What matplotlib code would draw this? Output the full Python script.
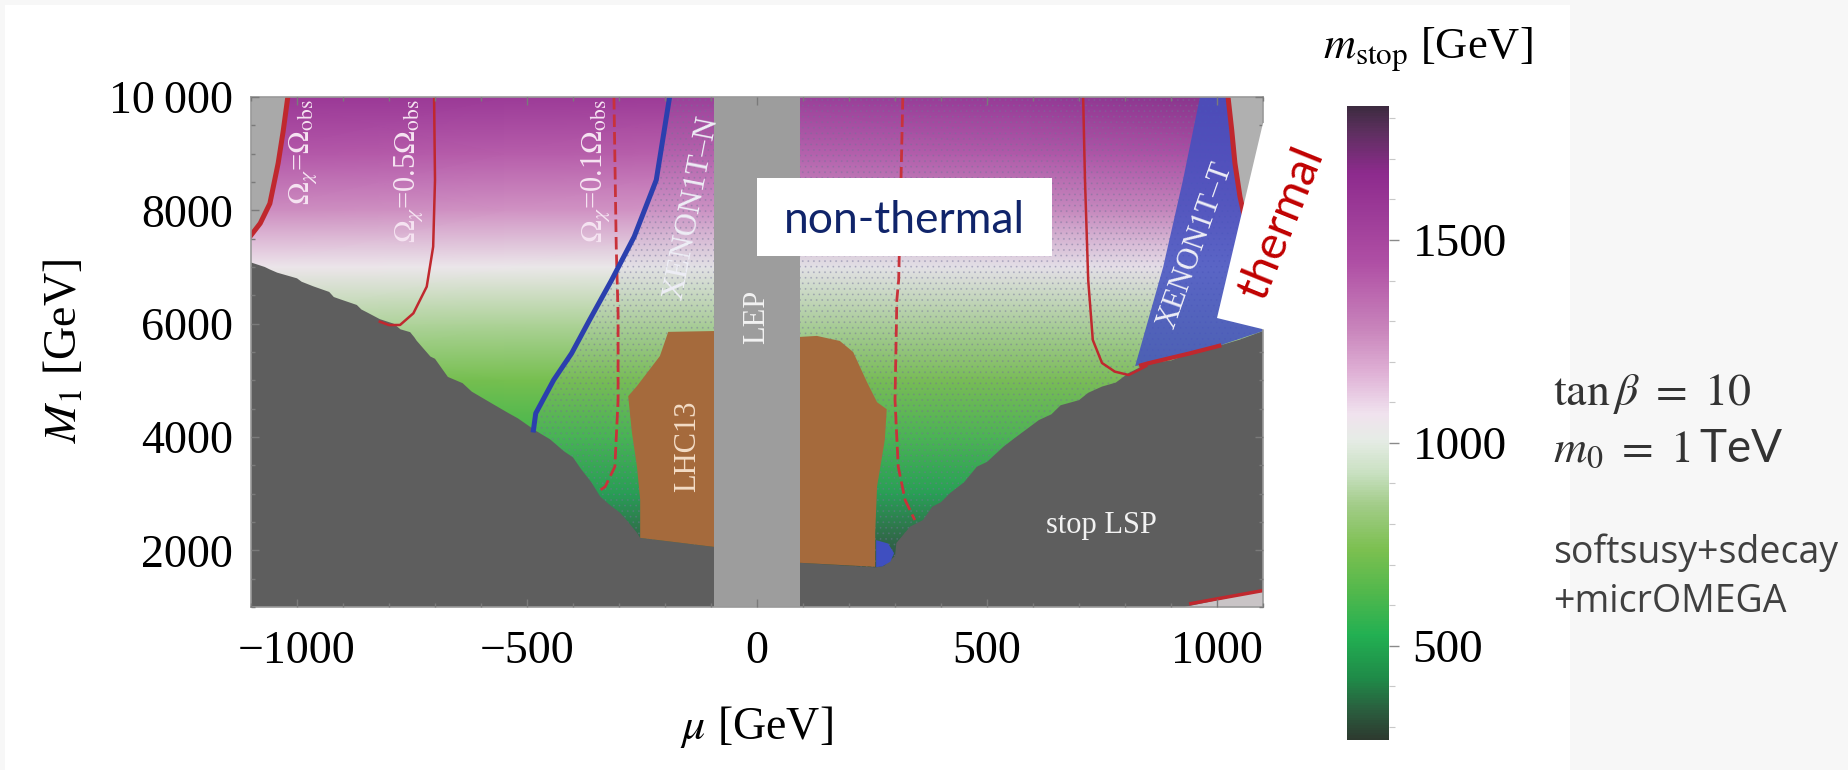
import numpy as np
import matplotlib
matplotlib.use('Agg')
import matplotlib.pyplot as plt
from matplotlib.colors import LinearSegmentedColormap
from matplotlib.patches import Polygon, Rectangle
from matplotlib.ticker import FixedLocator, FixedFormatter, MultipleLocator

plt.rcParams['font.family'] = ['Liberation Serif', 'DejaVu Serif']
plt.rcParams['mathtext.fontset'] = 'stix'
plt.rcParams['hatch.linewidth'] = 0.6

mu_grid = [-1100, -550, 0, 550, 1100]
m1_grid = [1000, 2000, 3000, 4000, 5000, 6000, 7000, 8000, 9000, 10000]
m_stop = [
    [250, 250, 250, 250, 250],
    [330, 330, 330, 330, 330],
    [470, 480, 480, 490, 500],
    [590, 600, 600, 610, 620],
    [710, 720, 720, 730, 740],
    [880, 870, 870, 870, 880],
    [1050, 1040, 1030, 1040, 1060],
    [1260, 1250, 1240, 1260, 1290],
    [1420, 1400, 1390, 1420, 1480],
    [1580, 1570, 1560, 1600, 1680],
]

# colour bar
cbar_min, cbar_max = 268, 1830
cbar_ticks = [500, 1000, 1500]
cbar_fracs = [0.0, 0.046, 0.095, 0.164, 0.233, 0.30, 0.37, 0.419, 0.474,
              0.515, 0.578, 0.647, 0.75, 0.895, 0.96, 1.0]
cbar_colors = ['#2d3a2f', '#2a5e3e', '#1f8a48', '#22b052', '#52b84c', '#7cc050',
               '#a2cc88', '#c8e0c0', '#e6ece6', '#f0e2ee', '#e0b2d6', '#c985bc',
               '#b050a5', '#8d2b8d', '#5e2f60', '#3d2b40']

# stop LSP / excluded region (dark grey): left edge, under LEP, right edge
gray_left_mu = [-1100, -1070, -1060, -1043, -1000, -990, -965, -930, -920, -906,
                -870, -860, -848, -820, -790, -775, -754, -745, -740, -710, -700,
                -672, -640, -620, -576, -540, -520, -481, -450, -420, -400, -383,
                -360, -341, -320, -298, -280, -261, -254]
gray_left_m1 = [7080, 7000, 6960, 6900, 6800, 6740, 6660, 6560, 6470, 6430,
                6330, 6250, 6200, 6080, 6000, 5900, 5850, 5760, 5700, 5420, 5380,
                5060, 4950, 4800, 4590, 4420, 4330, 4110, 3960, 3750, 3640, 3440,
                3200, 2950, 2800, 2665, 2500, 2310, 2220]
gray_mid_mu = [-93, 93]
gray_mid_m1 = [2060, 1780]
gray_right_mu = [257, 275, 300, 303, 333, 361, 381, 400, 419, 450, 478, 500, 536,
                 560, 613, 640, 660, 700, 720, 750, 780, 808, 850, 900, 943, 1000,
                 1050, 1100]
gray_right_m1 = [1700, 1720, 1900, 2130, 2420, 2535, 2770, 2850, 3006, 3200, 3476,
                 3560, 3830, 3980, 4300, 4400, 4560, 4650, 4780, 4890, 4960, 5130,
                 5300, 5350, 5480, 5600, 5720, 5870]

# LHC13 exclusion (two pieces either side of LEP)
lhc_left_mu = [-193, -93, -93, -254, -254, -261, -272, -280, -261, -211]
lhc_left_m1 = [5855, 5870, 2060, 2220, 2896, 3480, 4083, 4720, 4898, 5430]
lhc_right_mu = [93, 130, 180, 209, 239, 261, 282, 278, 261, 257, 257, 93]
lhc_right_m1 = [5766, 5784, 5695, 5500, 4969, 4614, 4490, 3959, 3126, 2311, 1709, 1780]
small_blue_mu = [259, 259, 285, 298, 290, 272]
small_blue_m1 = [1706, 2180, 2120, 1950, 1800, 1715]

# LEP chargino bound
lep_mu = [-93, 93]

# relic density contours
obs_left_mu = [-1020, -1030, -1041, -1059, -1080, -1100]
obs_left_m1 = [10000, 9400, 8830, 8120, 7770, 7560]
half_left_mu = [-702, -700, -704, -718, -747, -776, -800, -820]
half_left_m1 = [10000, 8535, 7358, 6653, 6183, 5977, 5975, 6035]
tenth_left_mu = [-311, -306, -302, -302, -309, -330, -345]
tenth_left_m1 = [10000, 7358, 6183, 4653, 3476, 3123, 3040]
tenth_right_mu = [317, 313, 308, 304, 300, 307, 322, 343]
tenth_right_m1 = [10000, 8535, 6770, 6418, 4653, 3476, 2888, 2535]
half_right_mu = [709, 713, 720, 730, 750, 778, 808, 837, 846]
half_right_m1 = [10000, 8535, 6770, 5712, 5306, 5153, 5094, 5212, 5250]
obs_right_mu = [1024, 1032, 1039, 1050, 1058]
obs_right_m1 = [10000, 9418, 8830, 8240, 7950]
obs_right_low_mu = [835, 850, 943, 1005]
obs_right_low_m1 = [5265, 5300, 5480, 5610]

# XENON1T limits
xenon_n_mu = [-190, -219, -267, -316, -364, -403, -442, -481, -486]
xenon_n_m1 = [10000, 8535, 7535, 6770, 6065, 5477, 5006, 4418, 4124]
xenon_t_mu = [963, 1024, 1032, 1039, 1050, 1058, 1080, 1100, 1000, 943, 850, 822, 883, 926]
xenon_t_m1 = [10000, 10000, 9418, 8830, 8240, 7950, 7000, 5870, 5600, 5480, 5300, 5250, 7000, 8535]

# bottom-right corner sliver
corner_mu = [930, 1100, 1100]
corner_m1 = [1000, 1290, 1000]

W, H = 1848, 770
fig = plt.figure(figsize=(W / 100, H / 100), dpi=100, facecolor='#f7f7f7')
fig.patches.append(Rectangle((5 / W, 0), 1565 / W, 765 / H, transform=fig.transFigure,
                             facecolor='white', edgecolor='none', zorder=-5))

ax = fig.add_axes([251 / W, 1 - 607 / H, 1012 / W, 510 / H])
cax = fig.add_axes([1347 / W, 1 - 740 / H, 42 / W, 634 / H])

cmap = LinearSegmentedColormap.from_list('mstop', list(zip(cbar_fracs, cbar_colors)))
mesh = ax.pcolormesh(mu_grid, m1_grid, np.array(m_stop), shading='gouraud',
                     cmap=cmap, vmin=cbar_min, vmax=cbar_max, zorder=0)

def poly(mu, m1, **kw):
    p = Polygon(np.column_stack([mu, m1]), closed=True, **kw)
    ax.add_patch(p)
    return p

# dotted XENON1T-N overlay
poly(xenon_n_mu + [-486, 1100, 1100], xenon_n_m1 + [1000, 1000, 10000],
     facecolor=(0.55, 0.55, 0.75, 0.07), edgecolor=(0.45, 0.45, 0.6, 0.35),
     hatch='...', lw=0, zorder=1)

# grey regions
poly([-1100] + gray_left_mu + gray_mid_mu + gray_right_mu + [1100],
     [1000] + gray_left_m1 + gray_mid_m1 + gray_right_m1 + [1000],
     facecolor='#5e5e5e', edgecolor='none', zorder=2)
poly([-1100] + obs_left_mu, [10000] + obs_left_m1, facecolor='#a9a9a9', edgecolor='none', zorder=2)
poly(obs_right_mu + [1100, 1100], obs_right_m1 + [7000, 10000],
     facecolor='#b0b0b0', edgecolor='none', zorder=2)
poly(corner_mu, corner_m1, facecolor='#c9c4c6', edgecolor='none', zorder=2)
ax.plot([943, 1100], [1060, 1290], color='#c0282e', lw=2.5, zorder=5)

# XENON1T-T region
poly(xenon_t_mu, xenon_t_m1, facecolor='#4250c0', alpha=0.85, edgecolor='none', zorder=3)

# LHC13 and LEP
poly(lhc_left_mu, lhc_left_m1, facecolor='#a56a3c', edgecolor='none', zorder=3)
poly(lhc_right_mu, lhc_right_m1, facecolor='#a56a3c', edgecolor='none', zorder=3)
poly(small_blue_mu, small_blue_m1, facecolor='#3f4fc0', edgecolor='none', zorder=3)
ax.axvspan(lep_mu[0], lep_mu[1], facecolor='#9d9d9d', edgecolor='none', zorder=4)

# contours
red = '#c0282e'
ax.plot(obs_left_mu, obs_left_m1, color=red, lw=3.6, zorder=5)
ax.plot(obs_right_mu, obs_right_m1, color=red, lw=3.6, zorder=5)
ax.plot(obs_right_low_mu, obs_right_low_m1, color=red, lw=3.0, zorder=5)
ax.plot(half_left_mu, half_left_m1, color=red, lw=1.8, zorder=5)
ax.plot(half_right_mu, half_right_m1, color=red, lw=1.8, zorder=5)
for xs, ys in [(tenth_left_mu, tenth_left_m1), (tenth_right_mu, tenth_right_m1)]:
    ln, = ax.plot(xs, ys, color='#c8323a', lw=2.0, zorder=5)
    ln.set_dashes((4.5, 1.8))
ax.plot(xenon_n_mu, xenon_n_m1, color='#2b3fae', lw=3.6, zorder=5)

# white wedge behind "thermal"
wedge = Polygon([(1100, 9540), (1000, 6100), (1107, 5888), (1130, 5888), (1130, 9540)],
                closed=True, facecolor='white', edgecolor='none', zorder=11, clip_on=False)
ax.add_patch(wedge)

# non-thermal box
ax.add_patch(Rectangle((0, 7194), 641, 1377, facecolor='white', edgecolor='none', zorder=11))
ax.text(320, 7600, 'non-thermal', family='Lato', fontsize=32, color='#10246a',
        ha='center', va='baseline', zorder=12)
ax.text(1141, 7777, 'thermal', family='Lato', fontsize=34, color='#c00000', rotation=68,
        ha='center', va='center', zorder=12, clip_on=False)

lab = dict(ha='center', va='center', zorder=12)
om = dict(rotation=90, fontsize=22, color='#f6e4f2', ha='center', va='top', zorder=12)
ax.text(-987, 9960, r'$\Omega_\chi$=$\Omega_\mathrm{obs}$', **om)
ax.text(-757, 9960, r'$\Omega_\chi$=0.5$\Omega_\mathrm{obs}$', **om)
ax.text(-352, 9960, r'$\Omega_\chi$=0.1$\Omega_\mathrm{obs}$', **om)
ax.text(-142, 8050, 'XENON1T\u2013N', rotation=79, fontsize=23, color='#eeeef6', **lab)
ax.text(954, 7388, 'XENON1T\u2013T', rotation=70.5, fontsize=22, color='#eeeef6', **lab)
ax.text(0, 6118, 'LEP', rotation=90, fontsize=22, color='#f2f2f2', **lab)
ax.text(-150, 3842, 'LHC13', rotation=90, fontsize=22, color='#f3dcc6', **lab)
ax.text(748, 2447, 'stop LSP', fontsize=22, color='#f2f2f2', **lab)

# axes styling
ax.set_xlim(-1100, 1100)
ax.set_ylim(1000, 10000)
ax.xaxis.set_major_locator(FixedLocator([-1000, -500, 0, 500, 1000]))
ax.xaxis.set_minor_locator(MultipleLocator(100))
ax.yaxis.set_major_locator(FixedLocator([2000, 4000, 6000, 8000, 10000]))
ax.yaxis.set_major_formatter(FixedFormatter(['2000', '4000', '6000', '8000', '10\u2009000']))
ax.yaxis.set_minor_locator(MultipleLocator(500))
ax.tick_params(which='both', direction='in', top=True, right=True, color='#7a7a7a', width=1)
ax.tick_params(which='major', length=6, labelsize=33)
ax.tick_params(which='minor', length=3)
ax.tick_params(axis='x', pad=17)
ax.tick_params(axis='y', pad=13)
for s in ax.spines.values():
    s.set_color('#9a9a9a')
    s.set_linewidth(1.2)
    s.set_zorder(10)
ax.xaxis.set_zorder(10)
ax.yaxis.set_zorder(10)

fig.text(65 / W, 1 - 351 / H, r'$M_1$ [GeV]', rotation=90, ha='center', va='center', fontsize=33)
fig.text(756 / W, 1 - 727 / H, r'$\mu$ [GeV]', ha='center', va='center', fontsize=33)

cb = fig.colorbar(mesh, cax=cax, ticks=cbar_ticks)
cb.outline.set_visible(False)
cb.ax.yaxis.set_minor_locator(MultipleLocator(100))
cb.ax.tick_params(which='major', length=7, width=1, color='#8a8a8a', labelsize=34, pad=10)
cb.ax.tick_params(which='minor', length=4, width=0.8, color='#c8c8c8')
fig.text(1428 / W, 1 - 59 / H, r'$m_\mathrm{stop}$ [GeV]', ha='center', va='baseline', fontsize=32)

# side notes
note = dict(color='#333333', va='center', fontsize=33)
fig.text(1553 / W, 1 - 394 / H, r'$\tan\beta\ =\ 10$', **note)
fig.text(1553 / W, 1 - 449 / H, r'$m_0\ =\ 1\,$TeV', family='Lato', **note)
fig.text(1553 / W, 1 - 553 / H, 'softsusy+sdecay', fontsize=27, family='Open Sans',
         color='#404040', va='center')
fig.text(1553 / W, 1 - 602 / H, '+micrOMEGA', fontsize=27, family='Open Sans',
         color='#404040', va='center')

fig.savefig('out.png', dpi=100, facecolor=fig.get_facecolor())
